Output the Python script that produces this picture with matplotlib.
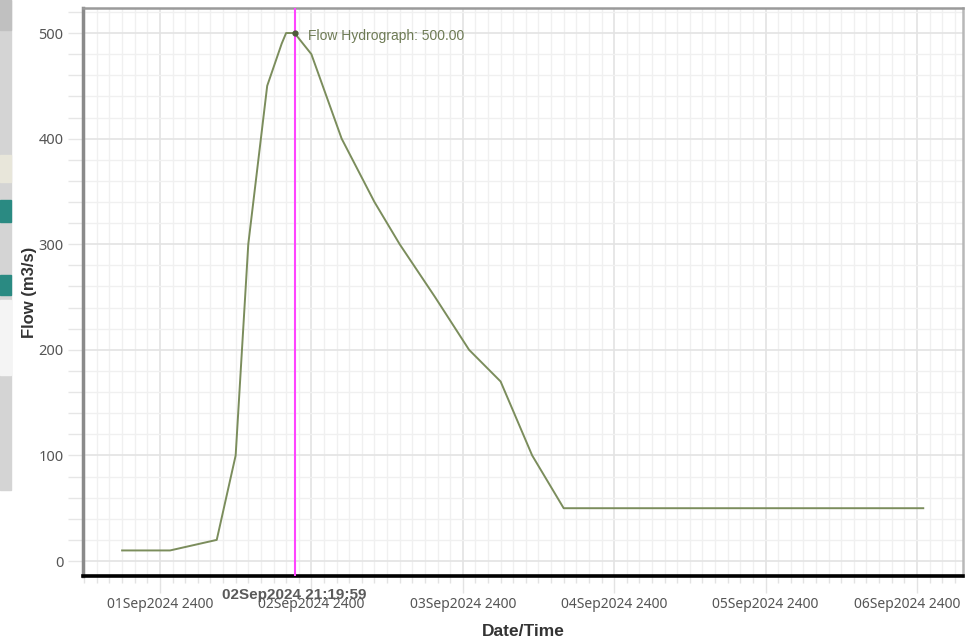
import numpy as np
import pandas as pd
import matplotlib
matplotlib.use("Agg")
import matplotlib.pyplot as plt
import matplotlib.dates as mdates
from matplotlib.patches import Rectangle
from matplotlib.transforms import ScaledTranslation

plt.rcParams['font.family'] = ['Noto Sans', 'DejaVu Sans']

# hydrograph: hours after 01Sep2024 00:00 and flow (m3/s)
start = pd.Timestamp("2024-09-01 00:00")
hours = [18, 25.6, 33, 36, 38, 41, 43.3, 44, 45.33, 48, 52.8, 58, 62,
         67.6, 73, 78, 83, 88, 145]
flow = [10, 10, 20, 100, 300, 450, 490, 500, 500, 480, 400, 340, 300,
        250, 200, 170, 100, 50, 50]

cursor_time = pd.Timestamp("2024-09-02 21:19:59")
cursor_value = 500.0
tick_days = ["2024-09-02", "2024-09-03", "2024-09-04", "2024-09-05",
             "2024-09-06", "2024-09-07"]
tick_labels = ["01Sep2024 2400", "02Sep2024 2400", "03Sep2024 2400",
               "04Sep2024 2400", "05Sep2024 2400", "06Sep2024 2400"]

times = [start + pd.Timedelta(hours=h) for h in hours]

W, H = 969, 642
fig = plt.figure(figsize=(W / 100, H / 100), dpi=100)

# remnants of the neighbouring window on the far left
ui = [(0, 0, 11, 490, "#d4d4d4"), (0, 0, 11, 30, "#c0c0c0"),
      (0, 155, 11, 27, "#e8e6da"), (0, 200, 11, 22, "#2a8a82"),
      (0, 275, 11, 20, "#2a8a82"), (0, 300, 11, 75, "#f4f4f4")]
for x0, y0, w, h, c in ui:
    fig.patches.append(Rectangle((x0 / W, 1 - (y0 + h) / H), w / W, h / H,
                                 transform=fig.transFigure, color=c,
                                 zorder=0))

ax = fig.add_axes([83 / W, (H - 576) / H, 880 / W, 568 / H])

ax.plot(times, flow, color="#7b8d5c", lw=1.4, zorder=3)
ax.axvline(cursor_time, color="#ff44ff", lw=1.5, zorder=4)
ax.plot([cursor_time], [cursor_value], "o", color="#4f5a3a", ms=3.5, zorder=5)
ax.annotate(f"Flow Hydrograph: {cursor_value:.2f}", (cursor_time, cursor_value),
            xytext=(10, -2), textcoords="offset points", va="center",
            fontsize=10, color="#6e7b55", family="Liberation Sans")

ax.set_ylim(-14.2, 523.7)
ax.set_xlim(start + pd.Timedelta(hours=11.8), start + pd.Timedelta(hours=151.3))

ax.set_yticks([0, 100, 200, 300, 400, 500])
ax.set_yticks(np.arange(0, 521, 20), minor=True)
ax.set_xticks(pd.to_datetime(tick_days), tick_labels)
ax.xaxis.set_minor_locator(mdates.HourLocator(interval=2))

ax.grid(True, which="major", color="#e3e3e3", lw=1.2, zorder=0)
ax.grid(True, which="minor", color="#f0f0f0", lw=1.0, zorder=0)
ax.set_axisbelow(True)

ax.tick_params(axis="y", which="both", length=11, width=1, color="#e6e6e6",
               labelsize=10.5, labelcolor="#555555", pad=3)
ax.tick_params(axis="x", which="major", length=12, width=1, color="#e3e3e3",
               labelsize=10, labelcolor="#555555", pad=3)
ax.tick_params(axis="x", which="minor", length=5, width=1, color="#e3e3e3")

ax.spines["left"].set_color("#8a8a8a")
ax.spines["left"].set_linewidth(2.5)
ax.spines["top"].set_color("#9a9a9a")
ax.spines["top"].set_linewidth(1.8)
ax.spines["right"].set_color("#b8b8b8")
ax.spines["right"].set_linewidth(1.8)
ax.spines["bottom"].set_color("#000000")
ax.spines["bottom"].set_linewidth(2.6)

# last label nudged left to stay inside the window
last = ax.get_xticklabels()[-1]
last.set_transform(last.get_transform() + ScaledTranslation(-0.10, 0, fig.dpi_scale_trans))

ax.set_ylabel("Flow (m3/s)", fontsize=12, fontweight="bold", color="#333333",
              labelpad=1, family="Liberation Sans")
ax.set_xlabel("Date/Time", fontsize=12.5, fontweight="bold", color="#333333",
              labelpad=9, family="Liberation Sans")

ax.text(cursor_time, -0.022, cursor_time.strftime("%d%b%Y %H:%M:%S"),
        transform=ax.get_xaxis_transform(), ha="center", va="top",
        fontsize=11, fontweight="bold", color="#5a5a5a", zorder=6,
        clip_on=False, family="Liberation Sans")

fig.savefig("out.png", dpi=100)
